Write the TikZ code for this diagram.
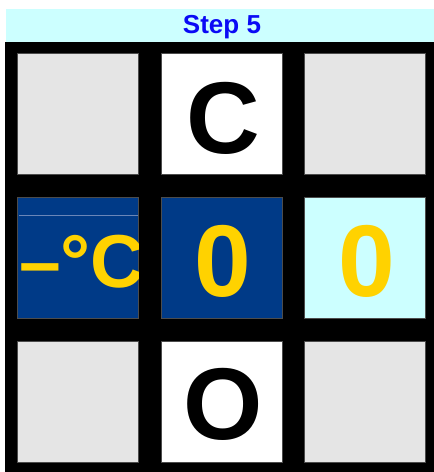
\documentclass[tikz,border=0pt]{standalone}
\usepackage{fontspec}
\setmainfont{Liberation Sans}
\definecolor{cellgray}{HTML}{E5E5E5}
\definecolor{lightcyan}{HTML}{CCFFFF}
\definecolor{darkblue}{HTML}{003A87}
\definecolor{gold}{HTML}{FFD200}
\definecolor{titleblue}{HTML}{0A0AF5}
\definecolor{sepline}{HTML}{6A86B8}
\begin{document}
\begin{tikzpicture}[x=1pt,y=-1pt,
  cell/.style={rectangle,minimum width=121pt,minimum height=121pt,inner sep=0pt,draw=black!70,line width=0.5pt},
  big/.style={font=\fontsize{102}{102}\selectfont\bfseries,inner sep=0pt,anchor=base}]
\useasboundingbox (0,0) rectangle (434,472);
\fill[white] (0,0) rectangle (434,472);
\node[fill=lightcyan,minimum width=428pt,minimum height=33pt,inner sep=0pt,anchor=north west] (title) at (6,9) {};
\node[font=\fontsize{26}{26}\selectfont\bfseries,text=titleblue,inner sep=0pt,anchor=base] (titletext) at (222,33.5) {Step 5};
\node[fill=black,minimum width=429pt,minimum height=430pt,inner sep=0pt,anchor=north west] (board) at (5,42) {};
% row 1
\node[cell,fill=cellgray] (c11) at (77.5,113.5) {};
\node[cell,fill=white] (c12) at (221.5,113.5) {};
\node[cell,fill=cellgray] (c13) at (364.5,113.5) {};
% row 2
\node[cell,fill=darkblue] (c21) at (77.5,257.5) {};
\node[cell,fill=darkblue] (c22) at (221.5,257.5) {};
\node[cell,fill=lightcyan] (c23) at (364.5,257.5) {};
% row 3
\node[cell,fill=cellgray] (c31) at (77.5,401.5) {};
\node[cell,fill=white] (c32) at (221.5,401.5) {};
\node[cell,fill=cellgray] (c33) at (364.5,401.5) {};
% letters
\node[big,text=black] (lc) at (223.5,153) {C};
\node[big,text=black] (lo) at (223.5,439) {O};
\node[big,text=gold] (d2) at (223,296) {0};
\node[big,text=gold] (d3) at (367,296) {0};
\draw[sepline,line width=0.6pt] ([xshift=2pt,yshift=-19pt]c21.north west) coordinate (s1) -- ([yshift=-19pt]c21.north east) coordinate (s2);
\begin{scope}
\clip (c21.north west) rectangle (c21.south east);
\node[font=\fontsize{75}{75}\selectfont\bfseries,text=gold,inner sep=0pt,anchor=base west] (deg) at (19,287) {–°C};
\end{scope}
\end{tikzpicture}
\end{document}
